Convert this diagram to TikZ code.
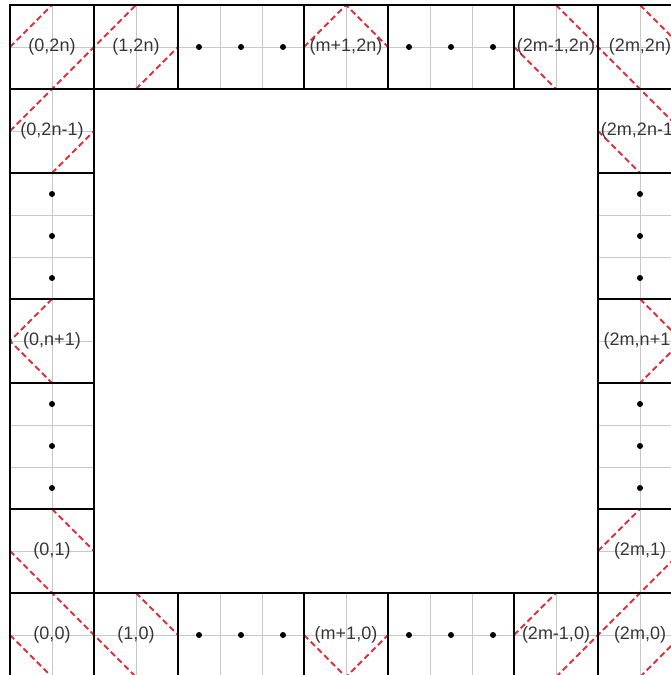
\documentclass[tikz,border=0pt]{standalone}
\usepackage{fontspec}
\setmainfont{Liberation Sans}
\usetikzlibrary{calc}
\pgfdeclarelayer{bg}
\pgfdeclarelayer{mid}
\pgfsetlayers{bg,mid,main}
\definecolor{pathred}{RGB}{226,48,58}
\definecolor{txtgray}{RGB}{55,55,55}
\definecolor{gridgray}{RGB}{200,200,200}
\tikzset{
  cellbox/.style={draw=black, line width=1.3pt, minimum width=84pt, minimum height=84pt,
    inner sep=0pt, outer sep=0pt, text=txtgray, font=\fontsize{18}{21}\selectfont},
  dotsh/.style={cellbox, minimum width=126pt},
  dotsv/.style={cellbox, minimum height=126pt},
  gridline/.style={draw=gridgray, line width=0.9pt},
  pathline/.style={draw=pathred, line width=2pt, dash pattern=on 6pt off 3.5pt},
}
\begin{document}
\begin{tikzpicture}[x=1pt,y=-1pt]
\useasboundingbox (0,0) rectangle (671,675);
% top row
\node[cellbox] (tl) at (52,47) {(0,2n)};
\node[cellbox] (t1) at (136,47) {(1,2n)};
\node[dotsh]   (dtl) at (241,47) {};
\node[cellbox] (tm) at (346,47) {(m+1,2n)};
\node[dotsh]   (dtr) at (451,47) {};
\node[cellbox] (tp) at (556,47) {(2m-1,2n)};
\node[cellbox] (tr) at (640,47) {(2m,2n)};
% left column
\node[cellbox] (l2) at (52,131) {(0,2n-1)};
\node[dotsv]   (dlu) at (52,236) {};
\node[cellbox] (lm) at (52,341) {(0,n+1)};
\node[dotsv]   (dll) at (52,446) {};
\node[cellbox] (l1) at (52,551) {(0,1)};
% bottom row
\node[cellbox] (bl) at (52,635) {(0,0)};
\node[cellbox] (b1) at (136,635) {(1,0)};
\node[dotsh]   (dbl) at (241,635) {};
\node[cellbox] (bm) at (346,635) {(m+1,0)};
\node[dotsh]   (dbr) at (451,635) {};
\node[cellbox] (bp) at (556,635) {(2m-1,0)};
\node[cellbox] (br) at (640,635) {(2m,0)};
% right column
\node[cellbox] (r2) at (640,131) {(2m,2n-1)};
\node[dotsv]   (dru) at (640,236) {};
\node[cellbox] (rm) at (640,341) {(2m,n+1)};
\node[dotsv]   (drl) at (640,446) {};
\node[cellbox] (r1) at (640,551) {(2m,1)};

\begin{pgfonlayer}{bg}
  \foreach \c in {tl,t1,tm,tp,tr,l2,lm,l1,bl,b1,bm,bp,br,r2,rm,r1}{
    \draw[gridline] (\c.north) -- (\c.south) (\c.west) -- (\c.east);
  }
  \foreach \d in {dtl,dtr,dbl,dbr}{
    \draw[gridline] (\d.west) -- (\d.east)
      ($(\d.north west)!1/3!(\d.north east)$) -- ($(\d.south west)!1/3!(\d.south east)$)
      ($(\d.north west)!2/3!(\d.north east)$) -- ($(\d.south west)!2/3!(\d.south east)$);
  }
  \foreach \d in {dlu,dll,dru,drl}{
    \draw[gridline] (\d.north) -- (\d.south)
      ($(\d.north west)!1/3!(\d.south west)$) -- ($(\d.north east)!1/3!(\d.south east)$)
      ($(\d.north west)!2/3!(\d.south west)$) -- ($(\d.north east)!2/3!(\d.south east)$);
  }
\end{pgfonlayer}

% dots
\foreach \d in {dtl,dtr,dbl,dbr}{
  \foreach \f in {1/6,1/2,5/6}{
    \fill[black] ($(\d.west)!\f!(\d.east)$) circle (3pt);
  }
}
\foreach \d in {dlu,dll,dru,drl}{
  \foreach \f in {1/6,1/2,5/6}{
    \fill[black] ($(\d.north)!\f!(\d.south)$) circle (3pt);
  }
}

\begin{pgfonlayer}{mid}
  % top left
  \draw[pathline] (tl.west) -- (tl.north);
  \draw[pathline] (l2.west) -- (l2.north) -- (tl.east) -- (t1.north);
  \draw[pathline] (l2.south) -- (l2.east);
  \draw[pathline] (t1.south) -- (t1.east);
  % top middle
  \draw[pathline] (tm.west) -- (tm.north) -- (tm.east);
  % top right
  \draw[pathline] (tr.north) -- (tr.east);
  \draw[pathline] (tp.north) -- (tp.east) -- (r2.north) -- (r2.east);
  \draw[pathline] (tp.west) -- (tp.south);
  \draw[pathline] (r2.west) -- (r2.south);
  % middles
  \draw[pathline] (lm.north) -- (lm.west) -- (lm.south);
  \draw[pathline] (rm.north) -- (rm.east) -- (rm.south);
  % bottom left
  \draw[pathline] (bl.west) -- (bl.south);
  \draw[pathline] (l1.west) -- (l1.south) -- (bl.east) -- (b1.south);
  \draw[pathline] (l1.north) -- (l1.east);
  \draw[pathline] (b1.north) -- (b1.east);
  % bottom middle
  \draw[pathline] (bm.west) -- (bm.south) -- (bm.east);
  % bottom right
  \draw[pathline] (br.south) -- (br.east);
  \draw[pathline] (bp.south) -- (bp.east) -- (r1.south) -- (r1.east);
  \draw[pathline] (bp.west) -- (bp.north);
  \draw[pathline] (r1.west) -- (r1.north);
\end{pgfonlayer}
\end{tikzpicture}
\end{document}
